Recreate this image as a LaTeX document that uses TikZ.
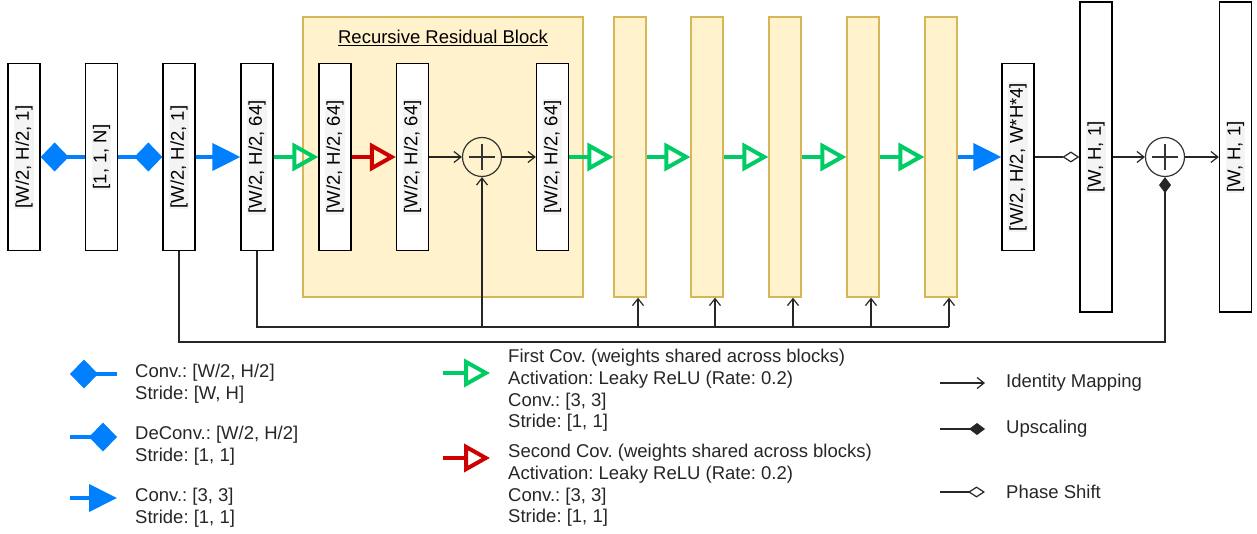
\documentclass[tikz,border=0pt]{standalone}
\usepackage{fontspec}
\setmainfont{Liberation Sans}
\usepackage{tikz}
\usetikzlibrary{arrows.meta, calc, positioning}
\definecolor{convblue}{RGB}{0,127,255}
\definecolor{firstgreen}{RGB}{0,204,102}
\definecolor{secondred}{RGB}{204,0,0}
\definecolor{blockfill}{RGB}{255,242,204}
\definecolor{blockdraw}{RGB}{214,182,86}
\definecolor{labelgray}{RGB}{244,244,244}
\newcommand{\laytext}[1]{\rotatebox{90}{\setlength{\fboxsep}{1pt}\colorbox{labelgray}{#1}}}
\frenchspacing

\tikzset{
  layer/.style={draw, line width=1.3pt, fill=white, minimum width=32pt, minimum height=187pt, inner sep=0pt},
  tall/.style={layer, minimum height=310pt},
  rep/.style={draw=blockdraw, fill=blockfill, line width=1.3pt, minimum width=32pt, minimum height=280pt, inner sep=0pt},
  sumop/.style={circle, draw=black!80, line width=1.2pt, minimum size=39pt, inner sep=0pt,
    path picture={\draw[black!80, line width=1.2pt] (path picture bounding box.center) +(-13pt,0pt) -- +(13pt,0pt) +(0pt,-13pt) -- +(0pt,13pt);}},
  convdown/.style={convblue, line width=4pt, arrows={Diamond[length=28pt,width=29pt]-}},
  deconv/.style={convblue, line width=4pt, arrows={-Diamond[length=28pt,width=29pt]}},
  conv/.style={convblue, line width=4pt, arrows={-Triangle[length=28pt,width=27pt]}},
  firstcov/.style={firstgreen, line width=4pt, arrows={-Triangle[open,length=26pt,width=28pt]}},
  secondcov/.style={secondred, line width=4pt, arrows={-Triangle[open,length=26pt,width=28pt]}},
  link/.style={black!85, line width=1.2pt},
  idmap/.style={link, arrows={-Straight Barb[length=7pt,width=11pt]}},
  upscale/.style={link, arrows={-Diamond[length=16pt,width=12pt]}},
  phase/.style={link, arrows={-Diamond[open,length=17pt,width=11pt]}},
  legtext/.style={anchor=west, align=left, inner sep=0pt, text=black!85},
}

\begin{document}
\begin{tikzpicture}[x=1pt, y=-1pt, font=\fontsize{18.5}{21.6}\selectfont]
\useasboundingbox (0,0) rectangle (1257,534);

% recursive residual block
\node(rrb) [rep, minimum width=280pt, minimum height=280pt] at (443,157) {};
\node(rrbtitle) at (443,38) {\underline{Recursive Residual Block}};

\node(lay1) [layer] at (24,157) {\laytext{[W/2, H/2, 1]}};
\node(lay2) [layer] at (101.5,157) {\laytext{[1, 1, N]}};
\node(lay3) [layer] at (179,157) {\laytext{[W/2, H/2, 1]}};
\node(lay4) [layer] at (257,157) {\laytext{[W/2, H/2, 64]}};
\node(lay5) [layer] at (335,157) {\laytext{[W/2, H/2, 64]}};
\node(lay6) [layer] at (412.5,157) {\laytext{[W/2, H/2, 64]}};
\node(sum1) [sumop] at (482,157) {};
\node(lay7) [layer] at (552.5,157) {\laytext{[W/2, H/2, 64]}};

\node(rep1) [rep] at (630,157) {};
\node(rep2) [rep] at (707,157) {};
\node(rep3) [rep] at (785,157) {};
\node(rep4) [rep] at (863,157) {};
\node(rep5) [rep] at (941,157) {};

\node(lay8) [layer] at (1018,157) {\laytext{[W/2, H/2, W*H*4]}};
\node(lay9) [tall] at (1096,157) {\laytext{[W, H, 1]}};
\node(sum2) [sumop] at (1165,157) {};
\node(lay10) [tall] at (1235.5,157) {\laytext{[W, H, 1]}};

% main path
\draw[convdown] (lay1) -- (lay2);
\draw[deconv] (lay2) -- (lay3);
\draw[conv] (lay3) -- (lay4);
\draw[firstcov] (lay4) -- (lay5);
\draw[secondcov] (lay5) -- (lay6);
\draw[idmap] (lay6) -- (sum1);
\draw[idmap] (sum1) -- (lay7);
\draw[firstcov] (lay7) -- (rep1);
\foreach \a/\b in {1/2,2/3,3/4,4/5}
  \draw[firstcov] (rep\a) -- (rep\b);
\draw[conv] (rep5) -- (lay8);
\draw[phase] (lay8) -- (lay9);
\draw[idmap] (lay9) -- (sum2);
\draw[idmap] (sum2) -- (lay10);

% skip connections
\coordinate(rail1) at (949,327);
\coordinate(rail2) at (179,342);
\draw[link] (lay4.south) |- (rail1);
\draw[idmap] (sum1.south |- rail1) -- (sum1.south);
\foreach \n in {1,...,5}
  \draw[idmap] ($(rep\n.south |- rail1)+(8,0)$) -- ($(rep\n.south)+(8,0)$);
\draw[upscale] (lay3.south) -- (rail2) -| (sum2.south);

% legend
\coordinate(k1a) at (70,374);  \coordinate(k1b) at (117,374);
\coordinate(k2a) at (70,437);  \coordinate(k2b) at (117,437);
\coordinate(k3a) at (70,498);  \coordinate(k3b) at (117,498);
\coordinate(k4a) at (443,373); \coordinate(k4b) at (490,373);
\coordinate(k5a) at (443,458); \coordinate(k5b) at (490,458);
\coordinate(k6a) at (940,383); \coordinate(k6b) at (985,383);
\coordinate(k7a) at (940,429); \coordinate(k7b) at (985,429);
\coordinate(k8a) at (940,492); \coordinate(k8b) at (985,492);
\draw[convdown] (k1a) -- (k1b);
\draw[deconv] (k2a) -- (k2b);
\draw[conv] (k3a) -- (k3b);
\draw[firstcov] (k4a) -- (k4b);
\draw[secondcov] (k5a) -- (k5b);
\draw[idmap] (k6a) -- (k6b);
\draw[upscale] (k7a) -- (k7b);
\draw[phase] (k8a) -- (k8b);

\node(k1) [legtext] at (135,383.5) {Conv.: [W/2, H/2]\\Stride: [W, H]};
\node(k2) [legtext] at (135,445.5) {DeConv.: [W/2, H/2]\\Stride: [1, 1]};
\node(k3) [legtext] at (135,507.5) {Conv.: [3, 3]\\Stride: [1, 1]};
\node(k4) [legtext] at (508,390.5) {First Cov. (weights shared across blocks)\\Activation: Leaky ReLU (Rate: 0.2)\\Conv.: [3, 3]\\Stride: [1, 1]};
\node(k5) [legtext] at (508,485.5) {Second Cov. (weights shared across blocks)\\Activation: Leaky ReLU (Rate: 0.2)\\Conv.: [3, 3]\\Stride: [1, 1]};
\node(k6) [legtext] at (1006,383) {Identity Mapping};
\node(k7) [legtext] at (1006,429) {Upscaling};
\node(k8) [legtext] at (1006,492) {Phase Shift};
\end{tikzpicture}
\end{document}
